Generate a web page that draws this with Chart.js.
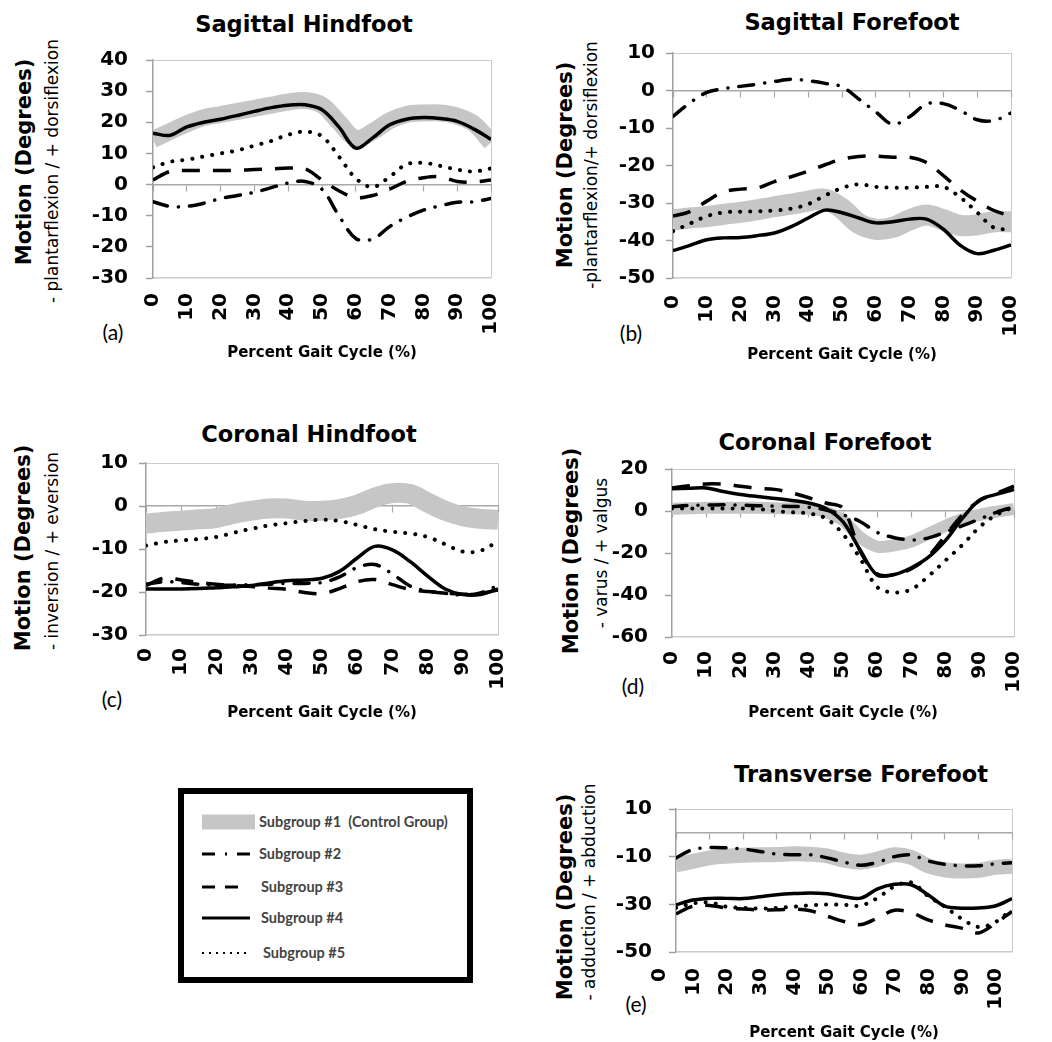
<!DOCTYPE html>
<html>
<head>
<meta charset="utf-8">
<script src="https://cdn.jsdelivr.net/npm/chart.js@4.4.0/dist/chart.umd.min.js"></script>
<style>
  html, body { margin: 0; padding: 0; background: #fff; overflow: hidden; }
  body { width: 1052px; height: 1042px; position: relative; font-family: 'DejaVu Sans', sans-serif; color: #000; }
  canvas { position: absolute; }
  .t { position: absolute; white-space: nowrap; transform: translate(-50%, -50%); }
  .title { font-weight: bold; font-size: 22.5px; }
  .rot { transform: translate(-50%, -50%) rotate(-90deg); }
  .ymain { font-weight: bold; font-size: 21px; }
  .ysub { font-size: 17px; }
  .tag { font-family: Lato, sans-serif; font-size: 21px; }
  #legend { position: absolute; left: 178px; top: 788px; width: 283px; height: 183px; border: 6px solid #000; }
  #legend .row { position: absolute; left: 0; height: 20px; width: 283px; }
  #legend svg { position: absolute; left: 18px; top: 0; }
  #legend span { position: absolute; left: 75px; top: 0; line-height: 20px; font-family: Lato, sans-serif; font-weight: bold; font-size: 14.5px; color: #444; white-space: nowrap; }
</style>
</head>
<body>

<div class="t title" style="left:304px; top:24px;">Sagittal Hindfoot</div>
<div class="t title" style="left:852px; top:22px;">Sagittal Forefoot</div>
<div class="t title" style="left:309px; top:434px;">Coronal Hindfoot</div>
<div class="t title" style="left:825px; top:442px;">Coronal Forefoot</div>
<div class="t title" style="left:861px; top:774px;">Transverse Forefoot</div>

<div class="t rot ymain" style="left:24px; top:162px;">Motion (Degrees)</div>
<div class="t rot ysub" style="left:52px; top:171px;">- plantarflexion / + dorsiflexion</div>
<div class="t rot ymain" style="left:565px; top:165px;">Motion (Degrees)</div>
<div class="t rot ysub" style="left:591px; top:165px;">-plantarflexion/+ dorsiflexion</div>
<div class="t rot ymain" style="left:23px; top:548px;">Motion (Degrees)</div>
<div class="t rot ysub" style="left:52px; top:551px;">- inversion / + eversion</div>
<div class="t rot ymain" style="left:571px; top:551px;">Motion (Degrees)</div>
<div class="t rot ysub" style="left:601px; top:553px;">- varus / + valgus</div>
<div class="t rot ymain" style="left:565px; top:897px;">Motion (Degrees)</div>
<div class="t rot ysub" style="left:589px; top:892px;">- adduction / + abduction</div>

<div class="t tag" style="left:113px; top:331px;">(a)</div>
<div class="t tag" style="left:631px; top:332px;">(b)</div>
<div class="t tag" style="left:112px; top:698px;">(c)</div>
<div class="t tag" style="left:633px; top:685px;">(d)</div>
<div class="t tag" style="left:636px; top:1003px;">(e)</div>

<div id="legend">
  <div class="row" style="top:18px;">
    <svg width="56" height="20"><rect x="0" y="2.5" width="53" height="15" fill="#c6c6c6"/></svg>
    <span>Subgroup #1&nbsp; (Control Group)</span>
  </div>
  <div class="row" style="top:50px;">
    <svg width="56" height="20" stroke="#000" stroke-width="3"><line x1="0" y1="10" x2="13" y2="10"/><line x1="23" y1="10" x2="25" y2="10"/><line x1="35" y1="10" x2="48" y2="10"/></svg>
    <span>Subgroup #2</span>
  </div>
  <div class="row" style="top:83px;">
    <svg width="56" height="20" stroke="#000" stroke-width="3"><line x1="0" y1="10" x2="13" y2="10"/><line x1="23" y1="10" x2="36" y2="10"/></svg>
    <span style="left:77px;">Subgroup #3</span>
  </div>
  <div class="row" style="top:114px;">
    <svg width="56" height="20" stroke="#000" stroke-width="3"><line x1="0" y1="10" x2="48" y2="10"/></svg>
    <span style="left:77px;">Subgroup #4</span>
  </div>
  <div class="row" style="top:149px;">
    <svg width="56" height="20" stroke="#000" stroke-width="2.2" stroke-dasharray="2 5"><line x1="0" y1="10" x2="44" y2="10"/></svg>
    <span style="left:79px;">Subgroup #5</span>
  </div>
</div>

<script>
// percent of gait cycle, sampled every 5 %
const pct = [0, 5, 10, 15, 20, 25, 30, 35, 40, 45, 50, 55, 60, 65, 70, 75, 80, 85, 90, 95, 100];

// (a) sagittal hindfoot
const sagHind1 = [14.5, 17, 19.5, 21.5, 22.5, 23.5, 24.5, 25.5, 26.5, 27, 25.5, 20, 14.8, 17, 20.5, 22.5, 23, 23, 22, 19.5, 13.5];
const sagHind2 = [-5.5, -7, -7, -6, -4.5, -3.5, -2.5, -1, 0.5, 1, -1.5, -10, -17.3, -17.5, -13.5, -10.5, -8.2, -6.8, -5.7, -5.5, -4.5];
const sagHind3 = [1.5, 4.2, 4.5, 4.5, 4.5, 4.6, 4.8, 5, 5.3, 5, 1.5, -2, -4.2, -3.5, -1.5, 1, 2.2, 2.5, 1, 0.8, 1.5];
const sagHind4 = [16.5, 15.8, 18.5, 20, 21, 22.2, 23.5, 24.7, 25.5, 25.6, 24, 18.5, 11.7, 15, 19.2, 21, 21.5, 21.2, 20.3, 17.8, 14.5];
const sagHind5 = [5.5, 7.3, 8, 9, 10, 11, 12.5, 14, 16, 17, 15.5, 9, 2, -0.8, 2.5, 6.5, 7, 6, 4.8, 4.2, 5.2];

// (b) sagittal forefoot
const sagFore1 = [-34.5, -34, -33.6, -33, -32.5, -31.8, -31, -30.3, -29.5, -29, -31.5, -35.5, -37, -36.5, -34.5, -33.2, -34.5, -36, -35.8, -35, -35];
const sagFore2 = [-6.9, -3.3, -0.5, 0.5, 1.1, 1.7, 2.4, 3, 2.6, 1.9, 1, -2.3, -5.7, -9, -7, -3.6, -3.5, -5.3, -7.8, -8, -6];
const sagFore3 = [-33.5, -32.3, -29.5, -27, -26.3, -26, -24.3, -23, -21.5, -19.8, -18.3, -17.6, -17.5, -17.8, -17.8, -19.2, -22.7, -26.5, -29.5, -32, -33.5];
const sagFore4 = [-42.7, -41.3, -39.8, -39.3, -39.2, -38.7, -38, -36.3, -34, -31.9, -32.6, -34, -35.3, -35, -34.3, -34.3, -37, -41.3, -43.5, -42.6, -41.2];
const sagFore5 = [-37.5, -35.5, -33.5, -32.5, -32.3, -32.2, -32, -31.5, -30.3, -28, -26, -25, -25.7, -25.9, -25.9, -25.7, -25.7, -28.5, -32.5, -36.6, -37];

// (c) coronal hindfoot
const corHind1 = [-4.1, -3.7, -3.4, -3.1, -2.8, -1.8, -1.1, -0.6, -0.6, -1.1, -1.1, -0.7, 0.3, 2, 3, 2.8, 0.8, -1.1, -2.4, -3, -3.2];
const corHind2 = [-18.2, -17.6, -17.8, -18.2, -18.4, -18.4, -18.3, -18.2, -18, -18, -17.8, -16.5, -14.3, -13.6, -15.8, -18.6, -19.8, -20.3, -20.7, -20.2, -18.5];
const corHind3 = [-18.5, -16.8, -17.2, -17.8, -18.2, -18.5, -18.7, -19.1, -19.4, -20.1, -20.4, -19.2, -17.6, -17.1, -18.3, -19.4, -19.9, -20.2, -20.5, -20.3, -19.5];
const corHind4 = [-19.3, -19.3, -19.3, -19.2, -19, -18.8, -18.5, -17.9, -17.4, -17.2, -16.8, -15.2, -12.1, -9.4, -10.2, -12.9, -16.3, -19.3, -20.6, -20.6, -19.3];
const corHind5 = [-9.2, -8.4, -8, -7.7, -7.2, -6.2, -5.3, -4.5, -4, -3.5, -3.2, -3.5, -4.4, -5.4, -6, -6.4, -7.2, -8.9, -10.6, -10.4, -8.2];

// (d) coronal forefoot
const corFore1 = [1, 1.3, 1.5, 1.5, 1.5, 1.5, 1.3, 1.2, 1, -0.5, -4.5, -12.5, -17, -16.3, -14.5, -10.8, -7, -3.8, -1.8, -0.3, 1];
const corFore2 = [2, 2.7, 2.8, 3, 2.8, 2.5, 2.3, 2.2, 1.8, 0.5, -1.8, -5, -10.2, -12.7, -13.8, -12.8, -10, -7, -3.8, -0.5, 2];
const corFore3 = [11, 12, 12.9, 12.8, 11.8, 10.8, 10.3, 8.6, 6.3, 3.8, 1.2, -19, -30, -30.3, -27.5, -21.5, -11.5, -1.8, 5, 8.5, 11.8];
const corFore4 = [10.6, 10.8, 11, 9.3, 7.9, 6.9, 6, 5, 3.8, 1.2, -5.2, -18.5, -30.5, -30.2, -27, -22, -14, -3.3, 5.3, 8, 10.3];
const corFore5 = [1.2, 1.2, 1.2, 1.2, 1.2, 1, 0, -0.6, -1.2, -3.5, -11, -22.5, -36.2, -38.8, -37.3, -31, -23.5, -16, -7.5, -1.7, 2];

// (e) transverse forefoot
const trFore1 = [-13.4, -12, -10.5, -9.8, -9.4, -9.2, -9.1, -8.8, -9, -9.7, -11.5, -12.3, -11, -9.2, -10.3, -13.8, -15.5, -16, -15.7, -14.5, -14];
const trFore2 = [-10.5, -7, -6.2, -6.3, -6.8, -7.8, -8.9, -9.2, -9.2, -10.5, -12.3, -13.6, -12.3, -10, -9.3, -11.8, -13.2, -13.8, -13.8, -13, -12.5];
const trFore3 = [-34, -30.8, -30.5, -31.5, -32, -32.3, -32.3, -32, -32.7, -35, -37.2, -38.5, -35.7, -32.5, -33.5, -36.5, -38.6, -40, -42, -38, -33];
const trFore4 = [-30.3, -28.2, -27.5, -27.5, -27.6, -26.8, -26, -25.5, -25.2, -25.6, -26.8, -27.4, -23.5, -21.6, -21.8, -26, -30.8, -31.6, -31.5, -30.7, -27.6];
const trFore5 = [-31.5, -29.6, -29.2, -31, -31.5, -31.8, -31.5, -31, -30.4, -30.1, -30.2, -30.5, -27.3, -22.5, -20.8, -26.5, -31, -36, -39.5, -37.5, -32];

Chart.defaults.font.family = "'DejaVu Sans', sans-serif";

function pts(vals) {
  return vals.map((v, i) => ({ x: pct[i], y: v }));
}

// canvas box [left, top, right, bottom] and plot area inside it, in page pixels
const panels = [
  { box: [60, 30, 530, 370], plot: { left: 153, top: 47, right: 511, bottom: 278 }, yMin: -30, yMax: 40, yStep: 10,
    yPad: 18, xPad: 15, titlePad: 8, band: 17, series: [sagHind1, sagHind2, sagHind3, sagHind4, sagHind5] },
  { box: [610, 30, 1052, 370], plot: { left: 673, top: 46, right: 1031, bottom: 278 }, yMin: -50, yMax: 10, yStep: 10,
    yPad: 11, xPad: 17, titlePad: 6, band: 21, series: [sagFore1, sagFore2, sagFore3, sagFore4, sagFore5] },
  { box: [60, 440, 535, 730], plot: { left: 146, top: 458, right: 515, bottom: 635 }, yMin: -30, yMax: 10, yStep: 10,
    yPad: 11, xPad: 13, titlePad: 8, band: 20, series: [corHind1, corHind2, corHind3, corHind4, corHind5] },
  { box: [610, 440, 1052, 730], plot: { left: 672, top: 461, right: 1032, bottom: 637 }, yMin: -60, yMax: 20, yStep: 20,
    yPad: 17, xPad: 14, titlePad: 8, band: 12, series: [corFore1, corFore2, corFore3, corFore4, corFore5] },
  { box: [610, 780, 1052, 1042], plot: { left: 676, top: 799, right: 1032, bottom: 952 }, yMin: -50, yMax: 10, yStep: 20,
    yPad: 17, xPad: 16, titlePad: 0, band: 15, labelOffset: -16, series: [trFore1, trFore2, trFore3, trFore4, trFore5] }
];

panels.forEach(p => {
  const c = document.createElement('canvas');
  c.width = p.box[2] - p.box[0];
  c.height = p.box[3] - p.box[1];
  c.style.left = p.box[0] + 'px';
  c.style.top = p.box[1] + 'px';
  document.body.appendChild(c);

  const [g1, g2, g3, g4, g5] = p.series;
  const line = { pointRadius: 0, borderWidth: 3.5, borderColor: '#000', tension: 0.35, fill: false, order: 1 };

  new Chart(c, {
    type: 'line',
    data: {
      datasets: [
        { ...line, label: 'Subgroup #5', data: pts(g5), borderWidth: 4, borderDash: [0.1, 10], borderCapStyle: 'round' },
        { ...line, label: 'Subgroup #4', data: pts(g4) },
        { ...line, label: 'Subgroup #3', data: pts(g3), borderDash: [18, 13] },
        { ...line, label: 'Subgroup #2', data: pts(g2), borderDash: [15, 11, 0.1, 11], borderCapStyle: 'round' },
        { ...line, label: 'Subgroup #1 (Control Group)', data: pts(g1), borderColor: '#c6c6c6', borderWidth: p.band, order: 2 }
      ]
    },
    options: {
      responsive: false,
      animation: false,
      events: [],
      layout: { padding: { top: p.plot.top - p.box[1], right: p.box[2] - p.plot.right, left: 0, bottom: 0 } },
      plugins: { legend: { display: false }, tooltip: { enabled: false } },
      scales: {
        x: {
          type: 'linear', min: 0, max: 100,
          afterFit: s => { s.height = p.box[3] - p.plot.bottom; },
          ticks: { stepSize: 10, minRotation: 90, maxRotation: 90, autoSkip: false, padding: p.xPad,
                   labelOffset: p.labelOffset || 0, color: '#000', font: { size: 20, weight: 'bold' } },
          grid: { drawTicks: false, color: ctx => (ctx.tick && ctx.tick.value === 100) ? '#cacaca' : 'rgba(0,0,0,0)' },
          border: { color: '#cacaca', width: 1.5 },
          title: { display: true, text: 'Percent Gait Cycle (%)', color: '#000',
                   font: { size: 15, weight: 'bold' }, padding: { top: 0, bottom: p.titlePad } }
        },
        // the zero line with its small category marks
        zero: {
          type: 'linear', axis: 'x', position: { y: 0 }, min: 0, max: 100,
          ticks: { stepSize: 10, display: false },
          grid: { drawOnChartArea: false, drawTicks: true, tickLength: 6, tickColor: '#a8a8a8', tickWidth: 1.2 },
          border: { color: '#a8a8a8', width: 1.5 }
        },
        y: {
          min: p.yMin, max: p.yMax,
          afterFit: s => { s.width = p.plot.left - p.box[0]; },
          ticks: { stepSize: p.yStep, padding: p.yPad, color: '#000', font: { size: 20, weight: 'bold' } },
          grid: { tickLength: 7, tickColor: '#a0a0a0', tickWidth: 1.5,
                  color: ctx => (ctx.tick && ctx.tick.value === p.yMax) ? '#cacaca' : 'rgba(0,0,0,0)' },
          border: { color: '#a0a0a0', width: 1.5 }
        }
      }
    }
  });
});
</script>
</body>
</html>
